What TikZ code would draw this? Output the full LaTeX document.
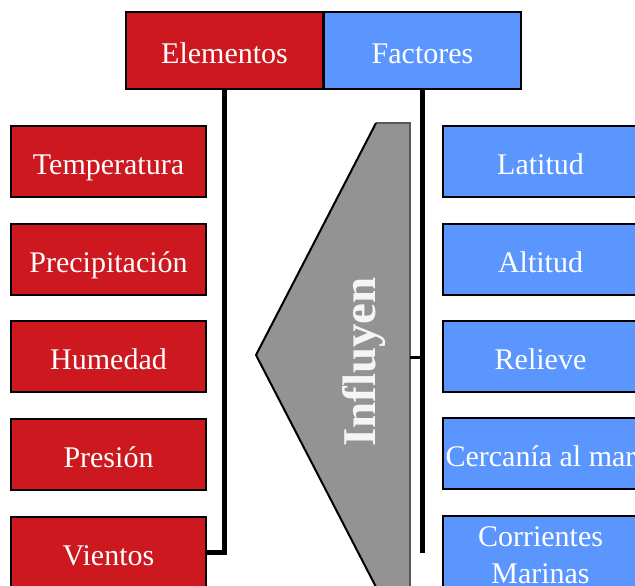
\documentclass[tikz,border=0pt]{standalone}
\usepackage{fontspec}
\setmainfont{Liberation Serif}
\begin{document}
\begin{tikzpicture}[x=1pt,y=-1pt,
  box/.style={draw=black, line width=2pt, minimum width=195pt, minimum height=71pt,
    inner sep=0pt, text=white, font=\fontsize{30}{37}\selectfont, align=center,
    text height=29pt, text depth=3pt},
  topbox/.style={box, minimum width=197pt, minimum height=77pt},
  conn/.style={draw=black, line width=4.5pt},
  ]
\definecolor{cred}{RGB}{204,24,30}
\definecolor{cblue}{RGB}{91,150,255}
\definecolor{cgray}{RGB}{147,147,147}
\useasboundingbox (0,0) rectangle (635,586);
\clip (0,0) rectangle (635,586);

% gray arrow shape
\fill[cgray] (410,123) -- (376,123) -- (256,355) -- (376,587) -- (410,587) -- cycle;
\draw[gray!70!black, line width=1.5pt] (376,123) -- (410,123) -- (410,587);
\draw[black, line width=2pt] (376,123) -- (256,355) -- (376,587);
\coordinate (inf) at (410,357);
\node[rotate=90, text=white!92!gray, font=\fontsize{47}{52}\selectfont\bfseries] (influyen) at (364,362) {Influyen};

\node[topbox, fill=cred] (elem) at (224.5,50.5) {Elementos};
\node[topbox, fill=cblue] (fact) at (422.5,50.5) {Factores};

\node[box, fill=cred] (temp) at (108.5,161.5) {Temperatura};
\node[box, fill=cred] (prec) at (108.5,259.5) {Precipitación};
\node[box, fill=cred] (hume) at (108.5,356.5) {Humedad};
\node[box, fill=cred] (pres) at (108.5,454.5) {Presión};
\node[box, fill=cred] (vien) at (108.5,552.5) {Vientos};

\node[box, fill=cblue] (lati) at (540.5,161.5) {Latitud};
\node[box, fill=cblue] (alti) at (540.5,259.5) {Altitud};
\node[box, fill=cblue] (reli) at (540.5,356.5) {Relieve};
\node[box, fill=cblue] (cerc) at (540.5,453.5) {Cercanía al mar};
\node[box, fill=cblue, text height=, text depth=] (corr) at (540.5,551.5) {\raisebox{-12pt}[0pt][0pt]{\begin{tabular}{@{}c@{}}Corrientes\\Marinas\end{tabular}}};

\coordinate (fend) at (422.5,553);
\draw[conn] (elem.south) |- (vien.east);
\draw[conn] (fact.south) -- (fend);
\draw[draw=black, line width=3pt] (inf) -- (inf -| fact.south);
\end{tikzpicture}
\end{document}
